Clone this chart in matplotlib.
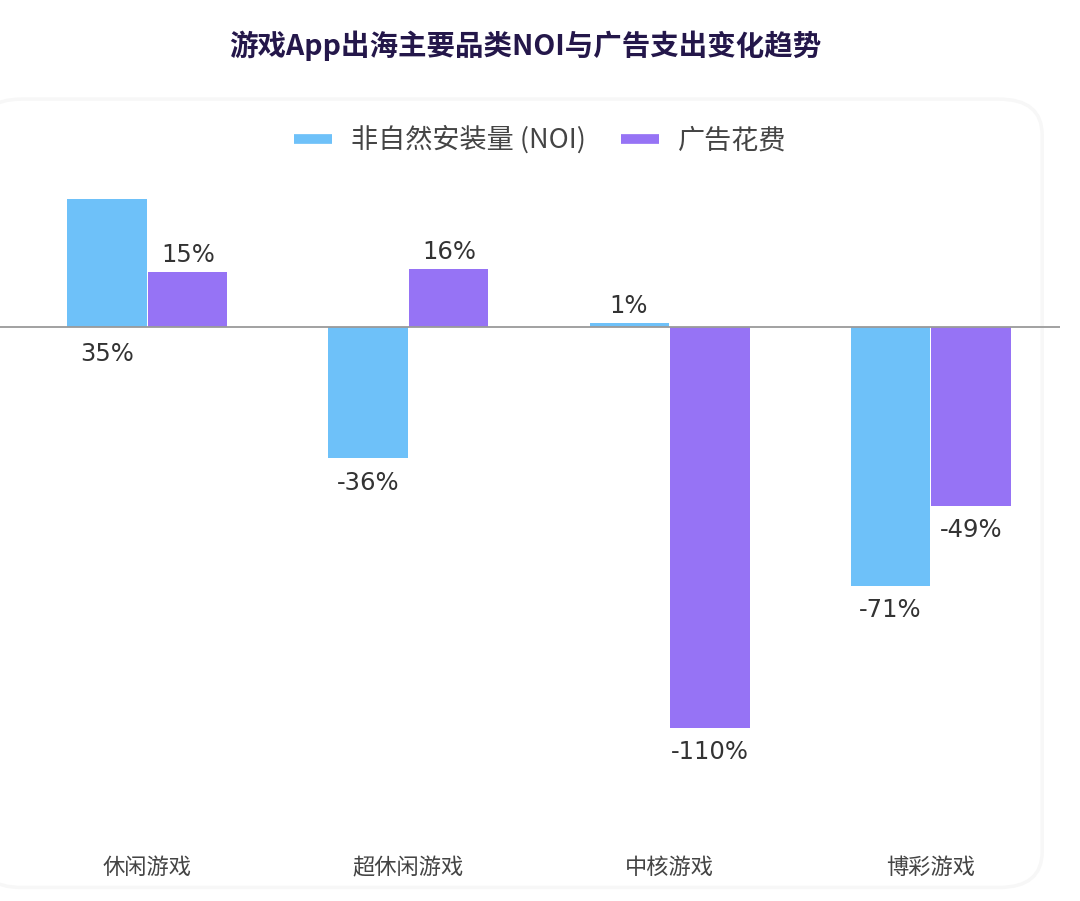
import matplotlib
matplotlib.use("Agg")
import matplotlib.pyplot as plt
from matplotlib.lines import Line2D
from matplotlib.patches import FancyBboxPatch
import numpy as np

plt.rcParams['font.family'] = ['Noto Sans CJK SC', 'DejaVu Sans']

categories = ["休闲游戏", "超休闲游戏", "中核游戏", "博彩游戏"]
noi = [35, -36, 1, -71]
ad_spend = [15, 16, -110, -49]
series_names = ["非自然安装量 (NOI)", "广告花费"]

blue = "#6EC1F9"
purple = "#9673F5"

fig = plt.figure(figsize=(10.8, 9.01), dpi=100)
fig.patch.set_facecolor("white")

# faint card behind the chart
card = FancyBboxPatch((-0.02, 0.015), 0.985, 0.875,
                      boxstyle="round,pad=0,rounding_size=0.04",
                      transform=fig.transFigure, facecolor="white",
                      edgecolor="#f7f7f7", lw=2.5, zorder=-5)
fig.patches.append(card)

fig.text(0.486, 0.949, "游戏App出海主要品类NOI与广告支出变化趋势",
         ha="center", va="center", fontsize=20.5, fontweight="bold",
         color="#24174a")

# axes: x 0..1060 px, y 170..830 px
ax = fig.add_axes([0.0, 1 - 830 / 901, 1060 / 1080, 660 / 901])
ax.set_facecolor("none")
ax.set_zorder(2)

x = np.arange(len(categories))
w = 0.303
off = 0.155
b1 = ax.bar(x - off, noi, w, color=blue, zorder=2)
b2 = ax.bar(x + off, ad_spend, w, color=purple, zorder=2)

ax.axhline(0, color="#9a9a9a", lw=1.3, zorder=3)

ax.set_xlim(-0.565, 3.496)
ax.set_ylim(-138, 43.07)
ax.axis("off")

lab_kw = dict(ha="center", fontsize=17.5, color="#333333", family="DejaVu Sans")
for bars, vals in ((b1, noi), (b2, ad_spend)):
    for i, (r, v) in enumerate(zip(bars, vals)):
        cx = r.get_x() + r.get_width() / 2
        if bars is b1 and i == 0:
            ax.text(cx, -4.0, f"{v}%", va="top", **lab_kw)
        elif v >= 0:
            ax.text(cx, v + 1.4, f"{v}%", va="bottom", **lab_kw)
        else:
            ax.text(cx, v - 3.4, f"{v}%", va="top", **lab_kw)

for i, c in enumerate(categories):
    ax.text(x[i], -148.4, c, ha="center", va="center", fontsize=16,
            color="#444444", clip_on=False)

handles = [Line2D([0], [0], color=blue, lw=7, solid_capstyle="butt"),
           Line2D([0], [0], color=purple, lw=7, solid_capstyle="butt")]
fig.legend(handles, series_names, loc="center", bbox_to_anchor=(0.5, 1 - 140 / 901),
           ncol=2, frameon=False, fontsize=19.5, handlelength=1.4,
           handletextpad=0.7, columnspacing=1.3, labelcolor="#444444")

fig.savefig("out.png", dpi=100, facecolor="white")
